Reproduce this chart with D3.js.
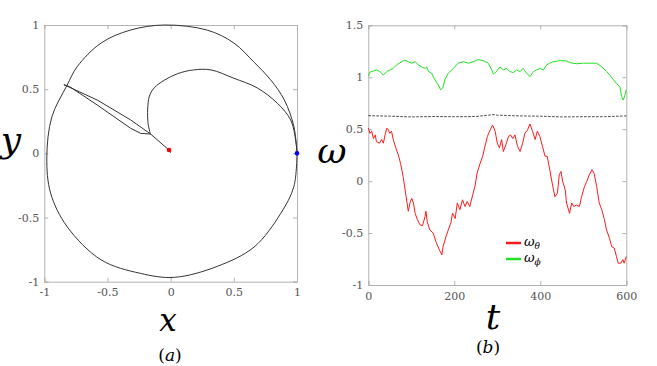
<!DOCTYPE html>
<html>
<head>
<meta charset="utf-8">
<script src="https://cdn.jsdelivr.net/npm/d3@7"></script>
<style>
  body { margin: 0; background: #fff; }
  svg { display: block; }
  .tick text { font-family: "DejaVu Serif", "Liberation Serif", serif; font-size: 11px; fill: #555; }
</style>
</head>
<body>
<svg id="fig" width="657" height="366"></svg>
<script>
// ---- panel (a): trajectory in the x-y plane ----
const outerX = [1, 0.975, 0.90, 0.79, 0.66, 0.5, 0.29, -0.05, -0.32, -0.55, -0.74, -0.82, -0.94, -0.98, -0.95, -0.82, -0.55, -0.24, 0.03, 0.37, 0.66, 0.87, 0.975, 1];
const outerY = [0, 0.21, 0.415, 0.575, 0.71, 0.86, 0.96, 1.0, 0.96, 0.86, 0.675, 0.53, 0.285, -0.03, -0.31, -0.57, -0.83, -0.935, -0.966, -0.88, -0.73, -0.47, -0.26, 0];
const hookX = [-0.16, -0.18, -0.17, -0.13, -0.05, 0.053, 0.18, 0.32, 0.5, 0.685, 0.845, 0.95, 0.99, 1];
const hookY = [0.15, 0.246, 0.44, 0.51, 0.57, 0.62, 0.65, 0.65, 0.585, 0.51, 0.39, 0.26, 0.1, 0];
const lensX = [0, -0.013, -0.158, -0.316, -0.58, -0.845, -0.80, -0.58, -0.316, -0.237, -0.158];
const lensY = [0.005, 0.026, 0.15, 0.26, 0.415, 0.535, 0.52, 0.376, 0.195, 0.156, 0.15];
const startPt = [-0.013, 0.026];
const endPt = [1, 0];
const xyTicks = [-1, -0.5, 0, 0.5, 1];

// ---- panel (b): angular velocities vs t ----
const greenT = [0, 4, 12, 19, 27, 35, 43, 50, 58, 66, 78, 85, 93, 101, 109, 116, 124, 132, 136, 140, 147, 155, 163, 168, 173, 178, 186, 198, 209, 221, 233, 244, 256, 267, 279, 287, 291, 298, 306, 314, 322, 329, 337, 345, 353, 360, 368, 376, 384, 391, 399, 407, 415, 422, 430, 446, 461, 469, 484, 500, 515, 531, 543, 554, 562, 570, 577, 585, 589, 593, 597, 600];
const omegaPhi = [1.01, 1.05, 1.06, 1.07, 1.055, 1.02, 1.055, 1.07, 1.085, 1.12, 1.15, 1.165, 1.15, 1.135, 1.15, 1.12, 1.10, 1.085, 1.10, 1.055, 1.04, 0.975, 0.925, 0.88, 0.895, 0.975, 1.04, 1.085, 1.135, 1.15, 1.135, 1.15, 1.17, 1.16, 1.135, 1.07, 1.03, 1.055, 1.10, 1.07, 1.085, 1.055, 1.045, 1.07, 1.055, 1.085, 1.04, 1.005, 1.055, 1.07, 1.085, 1.07, 1.12, 1.135, 1.15, 1.16, 1.157, 1.14, 1.13, 1.135, 1.135, 1.135, 1.10, 1.055, 1.02, 0.975, 0.94, 0.91, 0.815, 0.78, 0.83, 0.88];
const redT = [0, 4, 8, 12, 16, 19, 26, 31, 35, 39, 43, 47, 50, 54, 58, 64, 70, 75, 81, 88, 93, 97, 101, 105, 109, 114, 120, 126, 132, 134, 137, 143, 151, 157, 165, 171, 174, 181, 186, 192, 196, 202, 207, 213, 219, 225, 230, 236, 243, 248, 253, 260, 266, 271, 277, 283, 289, 295, 300, 305, 310, 314, 320, 326, 331, 336, 341, 347, 353, 359, 364, 370, 376, 382, 388, 393, 399, 405, 411, 416, 422, 429, 434, 440, 444, 448, 452, 458, 461, 468, 473, 478, 484, 491, 496, 503, 508, 514, 520, 525, 531, 537, 543, 549, 554, 561, 566, 572, 577, 581, 587, 592, 595, 600];
const omegaTheta = [0.51, 0.46, 0.48, 0.41, 0.445, 0.38, 0.365, 0.40, 0.365, 0.445, 0.51, 0.49, 0.46, 0.48, 0.40, 0.32, 0.25, 0.17, 0.045, -0.15, -0.29, -0.21, -0.165, -0.21, -0.31, -0.37, -0.42, -0.43, -0.34, -0.29, -0.39, -0.47, -0.50, -0.58, -0.66, -0.71, -0.63, -0.53, -0.47, -0.40, -0.31, -0.36, -0.21, -0.275, -0.18, -0.245, -0.195, -0.245, -0.13, -0.05, 0.077, 0.17, 0.24, 0.33, 0.43, 0.49, 0.54, 0.48, 0.365, 0.32, 0.40, 0.285, 0.35, 0.43, 0.445, 0.41, 0.445, 0.335, 0.285, 0.365, 0.46, 0.49, 0.55, 0.48, 0.40, 0.48, 0.43, 0.335, 0.24, 0.24, 0.11, -0.05, -0.15, -0.115, 0.06, 0.093, -0.003, -0.085, -0.21, -0.31, -0.21, -0.245, -0.23, -0.245, -0.15, -0.05, -0.003, 0.06, 0.11, 0.077, -0.05, -0.21, -0.275, -0.37, -0.47, -0.55, -0.63, -0.645, -0.725, -0.79, -0.79, -0.755, -0.79, -0.725];
const dashT = [0, 50, 100, 150, 200, 250, 290, 300, 350, 400, 450, 500, 550, 600];
const dashV = [0.63, 0.625, 0.618, 0.622, 0.62, 0.622, 0.64, 0.635, 0.628, 0.625, 0.618, 0.62, 0.62, 0.628];
const tTicks = [0, 200, 400, 600];
const wTicks = [-1, -0.5, 0, 0.5, 1, 1.5];

const svg = d3.select("#fig");
const boxColor = "#b3b3b3";
const mathFont = "'DejaVu Serif', 'Liberation Serif', serif";

// draws a MATLAB-like box with inward ticks on all sides
function drawBox(g, x, y, xt, yt) {
    const [x0, x1] = x.range(), [y0, y1] = y.range();
    g.append("g").attr("transform", `translate(0,${y0})`)
        .call(d3.axisBottom(x).tickValues(xt).tickSize(-4).tickPadding(7).tickFormat(d => String(d)));
    g.append("g").attr("transform", `translate(0,${y1})`)
        .call(d3.axisTop(x).tickValues(xt).tickSize(-4).tickFormat(""));
    g.append("g").attr("transform", `translate(${x0},0)`)
        .call(d3.axisLeft(y).tickValues(yt).tickSize(-4).tickPadding(5).tickFormat(d => String(d)));
    g.append("g").attr("transform", `translate(${x1},0)`)
        .call(d3.axisRight(y).tickValues(yt).tickSize(-4).tickFormat(""));
    g.selectAll("g").attr("font-family", null);
    g.selectAll(".domain").attr("stroke", boxColor);
    g.selectAll(".tick line").attr("stroke", boxColor);
}

// ---- panel (a) ----
const xA = d3.scaleLinear().domain([-1, 1]).range([44.3, 297]);
const yA = d3.scaleLinear().domain([-1, 1]).range([281.7, 25]);
const gA = svg.append("g");
drawBox(gA, xA, yA, xyTicks, xyTicks);

const smooth = d3.line().x(d => xA(d[0])).y(d => yA(d[1])).curve(d3.curveCatmullRom);
const straight = d3.line().x(d => xA(d[0])).y(d => yA(d[1]));
gA.append("path").attr("d", smooth(d3.zip(outerX, outerY)))
    .attr("fill", "none").attr("stroke", "#333").attr("stroke-width", 1);
gA.append("path").attr("d", smooth(d3.zip(hookX, hookY)))
    .attr("fill", "none").attr("stroke", "#333").attr("stroke-width", 1);
gA.append("path").attr("d", straight(d3.zip(lensX, lensY)))
    .attr("fill", "none").attr("stroke", "#333").attr("stroke-width", 1).attr("stroke-linejoin", "round");
gA.append("circle").attr("cx", xA(startPt[0])).attr("cy", yA(startPt[1])).attr("r", 2.3).attr("fill", "red");
gA.append("circle").attr("cx", xA(endPt[0])).attr("cy", yA(endPt[1])).attr("r", 2.3).attr("fill", "blue");

svg.append("text").attr("x", 11).attr("y", 152).attr("text-anchor", "middle")
    .attr("font-family", mathFont).attr("font-style", "italic").attr("font-size", 36).text("y");
svg.append("text").attr("x", 168).attr("y", 331).attr("text-anchor", "middle")
    .attr("font-family", mathFont).attr("font-style", "italic").attr("font-size", 31).text("x");
const capA = svg.append("text").attr("x", 170).attr("y", 361).attr("text-anchor", "middle")
    .attr("font-family", mathFont).attr("font-size", 17);
capA.append("tspan").text("(");
capA.append("tspan").attr("font-style", "italic").text("a");
capA.append("tspan").text(")");

// ---- panel (b) ----
const xB = d3.scaleLinear().domain([0, 600]).range([368.3, 626.3]);
const yB = d3.scaleLinear().domain([-1, 1.5]).range([285, 25.3]);
const gB = svg.append("g");
drawBox(gB, xB, yB, tTicks, wTicks);

const tLine = d3.line().x(d => xB(d[0])).y(d => yB(d[1]));
gB.append("path").attr("d", tLine(d3.zip(dashT, dashV)))
    .attr("fill", "none").attr("stroke", "#444").attr("stroke-width", 1).attr("stroke-dasharray", "2.5,1.5");
gB.append("path").attr("d", tLine(d3.zip(greenT, omegaPhi)))
    .attr("fill", "none").attr("stroke", "#22e022").attr("stroke-width", 1);
gB.append("path").attr("d", tLine(d3.zip(redT, omegaTheta)))
    .attr("fill", "none").attr("stroke", "#ff1a1a").attr("stroke-width", 1);

// legend
const legend = gB.append("g").attr("transform", "translate(506,243)");
const legItems = [{c: "#ff1a1a", sub: "θ"}, {c: "#22e022", sub: "ϕ"}];
legItems.forEach((d, i) => {
    legend.append("line").attr("x1", 0).attr("x2", 15).attr("y1", i * 16).attr("y2", i * 16)
        .attr("stroke", d.c).attr("stroke-width", 2.5);
    const t = legend.append("text").attr("x", 18).attr("y", i * 16 + 3)
        .attr("font-family", mathFont).attr("font-style", "italic").attr("font-size", 13);
    t.append("tspan").text("ω");
    t.append("tspan").attr("font-size", 9).attr("dy", 3).text(d.sub);
});

svg.append("text").attr("x", 332).attr("y", 163).attr("text-anchor", "middle")
    .attr("font-family", mathFont).attr("font-style", "italic").attr("font-size", 36).text("ω");
svg.append("text").attr("x", 493).attr("y", 329).attr("text-anchor", "middle")
    .attr("font-family", mathFont).attr("font-style", "italic").attr("font-size", 36).text("t");
const capB = svg.append("text").attr("x", 488).attr("y", 353).attr("text-anchor", "middle")
    .attr("font-family", mathFont).attr("font-size", 17);
capB.append("tspan").text("(");
capB.append("tspan").attr("font-style", "italic").text("b");
capB.append("tspan").text(")");
</script>
</body>
</html>
